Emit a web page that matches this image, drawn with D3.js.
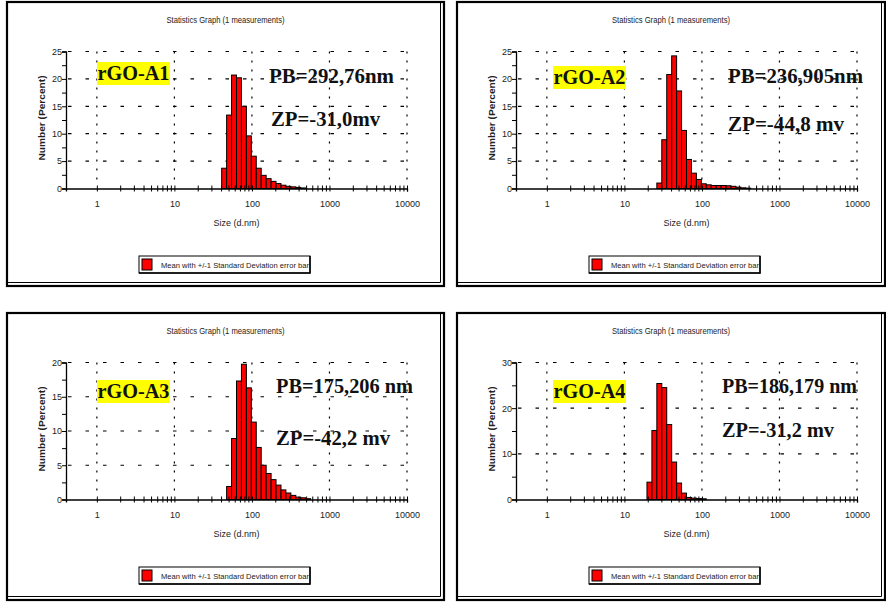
<!DOCTYPE HTML>
<html>
<head>
	<meta charset="utf-8">
	<title>Statistics Graph - rGO samples</title>
	<script src="https://cdn.jsdelivr.net/npm/d3@7"></script>
	<style type="text/css">
		body { margin: 0; background: #ffffff; }
		.small { font-family: "Liberation Sans Narrow", "Arial Narrow", "Liberation Sans", Arial, sans-serif; fill: #222; }
		.big { font-family: "Liberation Serif", "Times New Roman", serif; font-weight: bold; fill: #111; }
		.bar { fill: #ff0000; stroke: #000; stroke-width: 1; }
		.grid { stroke: #000; stroke-width: 1.2; fill: none; }
	</style>
</head>
<body>
<div id="picture"></div>
<script>
var width  = 886;
var height = 605;

// Malvern size classes (d.nm)
var sizeClasses = [0.4, 0.4632, 0.5365, 0.6213, 0.7195, 0.8332, 0.9649, 1.117, 1.294, 1.499,
	1.736, 2.01, 2.328, 2.696, 3.122, 3.615, 4.187, 4.849, 5.615, 6.503, 7.531, 8.721,
	10.1, 11.7, 13.54, 15.69, 18.17, 21.04, 24.36, 28.21, 32.67, 37.84, 43.82, 50.75,
	58.77, 68.06, 78.82, 91.28, 105.7, 122.4, 141.8, 164.2, 190.1, 220.2, 255, 295.3,
	342, 396.1, 458.7, 531.2, 615.1, 712.4, 825, 955.4, 1106, 1281, 1484, 1718, 1990,
	2305, 2669, 3091, 3580, 4145, 4801, 5560, 6439, 7456, 8635, 10000];

var xTickLabels = [1, 10, 100, 1000, 10000];

// number (%) per size class, starting at the given class
var a1Start  = 43.82;
var a1Values = [3.7, 13.4, 20.7, 20.2, 15.0, 9.6, 5.9, 3.7, 2.4, 1.8, 1.3, 0.9, 0.6, 0.4, 0.3, 0.2, 0.1];
var a2Start  = 28.21;
var a2Values = [1.0, 8.9, 20.8, 24.2, 17.8, 10.6, 5.3, 2.8, 1.65, 0.86, 0.67, 0.55, 0.55, 0.55, 0.5, 0.4, 0.25, 0.12, 0.06];
var a3Start  = 50.75;
var a3Values = [1.9, 8.9, 17.3, 19.75, 16.3, 11.3, 7.6, 5.0, 3.8, 2.9, 2.1, 1.4, 0.95, 0.6, 0.35, 0.25, 0.12];
var a4Start  = 21.04;
var a4Values = [3.8, 15.1, 25.4, 24.5, 16.4, 8.2, 3.6, 1.4, 0.45, 0.3, 0.2, 0.15];

var sampleNames = ["rGO-A1", "rGO-A2", "rGO-A3", "rGO-A4"];
var pbLabels    = ["PB=292,76nm", "PB=236,905nm", "PB=175,206 nm", "PB=186,179 nm"];
var zpLabels    = ["ZP=-31,0mv", "ZP=-44,8 mv", "ZP=-42,2 mv", "ZP=-31,2 mv"];
var yMax        = [25, 25, 20, 30];
var yMajor      = [5, 5, 5, 10];

// frame placement and annotation layout (relative to frame)
var panels = [
	{ x: 7,   y: 2,   w: 437, h: 284, start: a1Start, values: a1Values,
	  box: [90, 60], pb: [262, 81, 125], zp: [264, 124, 109] },
	{ x: 457, y: 2,   w: 428, h: 284, start: a2Start, values: a2Values,
	  box: [96, 64], pb: [271, 81, 135], zp: [271, 129, 116] },
	{ x: 7,   y: 313, w: 437, h: 287, start: a3Start, values: a3Values,
	  box: [90, 67], pb: [269, 80, 137], zp: [269, 132, 114] },
	{ x: 457, y: 313, w: 428, h: 287, start: a4Start, values: a4Values,
	  box: [96, 67], pb: [265, 80, 135], zp: [265, 124, 112] }
];

var svg = d3.select("#picture")
	.append("svg")
		.attr("width",  width)
		.attr("height", height);

var step = Math.sqrt(sizeClasses[1] / sizeClasses[0]);

function DrawPanel(p, i) {
	var g = svg.append("g").attr("transform", "translate(" + p.x + "," + p.y + ")");

	// frame with a double line on the right and bottom
	g.append("rect")
		.attr("x", 0).attr("y", 0).attr("width", p.w).attr("height", p.h)
		.attr("fill", "none").attr("stroke", "#000").attr("stroke-width", 2.2);
	g.append("path")
		.attr("d", "M" + (p.w - 3.5) + ",1V" + (p.h - 3.5) + "H1")
		.attr("fill", "none").attr("stroke", "#000").attr("stroke-width", 1);

	var x = d3.scaleLog().domain([0.4, 10000]).range([59, 400]);
	var y = d3.scaleLinear().domain([0, yMax[i]]).range([186.5, 49.5]);

	g.append("text").attr("class", "small")
		.attr("x", p.w / 2).attr("y", 21)
		.attr("text-anchor", "middle")
		.attr("font-size", 9)
		.attr("textLength", 118).attr("lengthAdjust", "spacingAndGlyphs")
		.text("Statistics Graph (1 measurements)");

	// grid
	var yTicks = d3.range(yMajor[i], yMax[i] + 0.01, yMajor[i]);
	g.selectAll(".hgrid").data(yTicks).enter().append("line")
		.attr("class", "grid")
		.attr("x1", x(0.4) + 2).attr("x2", x(10000))
		.attr("y1", function(d) { return y(d); })
		.attr("y2", function(d) { return y(d); })
		.attr("stroke-dasharray", "3.5,14");
	g.selectAll(".vgrid").data(xTickLabels).enter().append("line")
		.attr("class", "grid")
		.attr("x1", function(d) { return x(d); })
		.attr("x2", function(d) { return x(d); })
		.attr("y1", y(yMax[i])).attr("y2", y(0) - 2)
		.attr("stroke-dasharray", "2,7");

	// bars
	var k0 = sizeClasses.indexOf(p.start);
	g.selectAll(".bar").data(p.values).enter().append("rect")
		.attr("class", "bar")
		.attr("x", function(d, j) { return x(sizeClasses[k0 + j] / step); })
		.attr("width", function(d, j) { return x(sizeClasses[k0 + j] * step) - x(sizeClasses[k0 + j] / step); })
		.attr("y", function(d) { return y(d); })
		.attr("height", function(d) { return y(0) - y(d); });

	// y axis
	var yAxis = g.append("g")
		.attr("transform", "translate(" + x(0.4) + ",0)")
		.call(d3.axisLeft(y)
			.tickValues(d3.range(0, yMax[i] + 0.01, yMajor[i] / 2))
			.tickSize(4)
			.tickFormat(function(d) { return d % yMajor[i] == 0 ? d : ""; }));
	yAxis.selectAll("text").attr("class", "small").attr("font-size", 9).attr("x", -4);
	yAxis.select(".domain").attr("stroke-width", 1.3);

	// x axis with crossing ticks
	var xTicks = [];
	xTickLabels.forEach(function(d) {
		for (var m = 1; m < 10; m++) if (d * m <= 10000) xTicks.push(d * m);
	});
	var xAxis = g.append("g")
		.attr("transform", "translate(0," + y(0) + ")")
		.call(d3.axisBottom(x)
			.tickValues(xTicks)
			.tickSize(3)
			.tickFormat(function(d) { return xTickLabels.indexOf(d) >= 0 ? d : ""; }));
	xAxis.selectAll(".tick line").attr("y1", -3).attr("y2", 3);
	xAxis.selectAll("text").attr("class", "small").attr("font-size", 9).attr("y", 12);
	xAxis.select(".domain").attr("stroke-width", 1.3);

	g.append("text").attr("class", "small")
		.attr("x", (x(0.4) + x(10000)) / 2).attr("y", 224)
		.attr("text-anchor", "middle").attr("font-size", 9)
		.text("Size (d.nm)");

	g.append("text").attr("class", "small")
		.attr("transform", "translate(38," + 116 + ") rotate(-90)")
		.attr("text-anchor", "middle").attr("font-size", 9).attr("font-weight", "bold")
		.attr("textLength", 85).attr("lengthAdjust", "spacingAndGlyphs")
		.text("Number (Percent)");

	// legend
	var lg = g.append("g").attr("transform", "translate(132,254)");
	lg.append("rect").attr("x", 0).attr("y", 0).attr("width", 171).attr("height", 17)
		.attr("fill", "#fff").attr("stroke", "#000").attr("stroke-width", 1);
	lg.append("path").attr("d", "M171,0V17H0").attr("fill", "none").attr("stroke", "#000").attr("stroke-width", 1.5);
	lg.append("rect").attr("x", 3).attr("y", 3).attr("width", 10).attr("height", 11)
		.attr("fill", "#ff0000").attr("stroke", "#000");
	lg.append("text").attr("class", "small")
		.attr("x", 22).attr("y", 12).attr("font-size", 8)
		.attr("textLength", 148).attr("lengthAdjust", "spacingAndGlyphs")
		.text("Mean with +/-1 Standard Deviation error bar");

	// annotations
	g.append("rect").attr("x", p.box[0]).attr("y", p.box[1]).attr("width", 73).attr("height", 23)
		.attr("fill", "#ffff00");
	g.append("text").attr("class", "big")
		.attr("x", p.box[0] + 0.5).attr("y", p.box[1] + 18).attr("font-size", 20)
		.attr("textLength", 72).attr("lengthAdjust", "spacingAndGlyphs")
		.text(sampleNames[i]);
	g.append("text").attr("class", "big")
		.attr("x", p.pb[0]).attr("y", p.pb[1]).attr("font-size", 21)
		.attr("textLength", p.pb[2]).attr("lengthAdjust", "spacingAndGlyphs")
		.text(pbLabels[i]);
	g.append("text").attr("class", "big")
		.attr("x", p.zp[0]).attr("y", p.zp[1]).attr("font-size", 21)
		.attr("textLength", p.zp[2]).attr("lengthAdjust", "spacingAndGlyphs")
		.text(zpLabels[i]);
}

panels.forEach(DrawPanel);
</script>
</body>
</html>
